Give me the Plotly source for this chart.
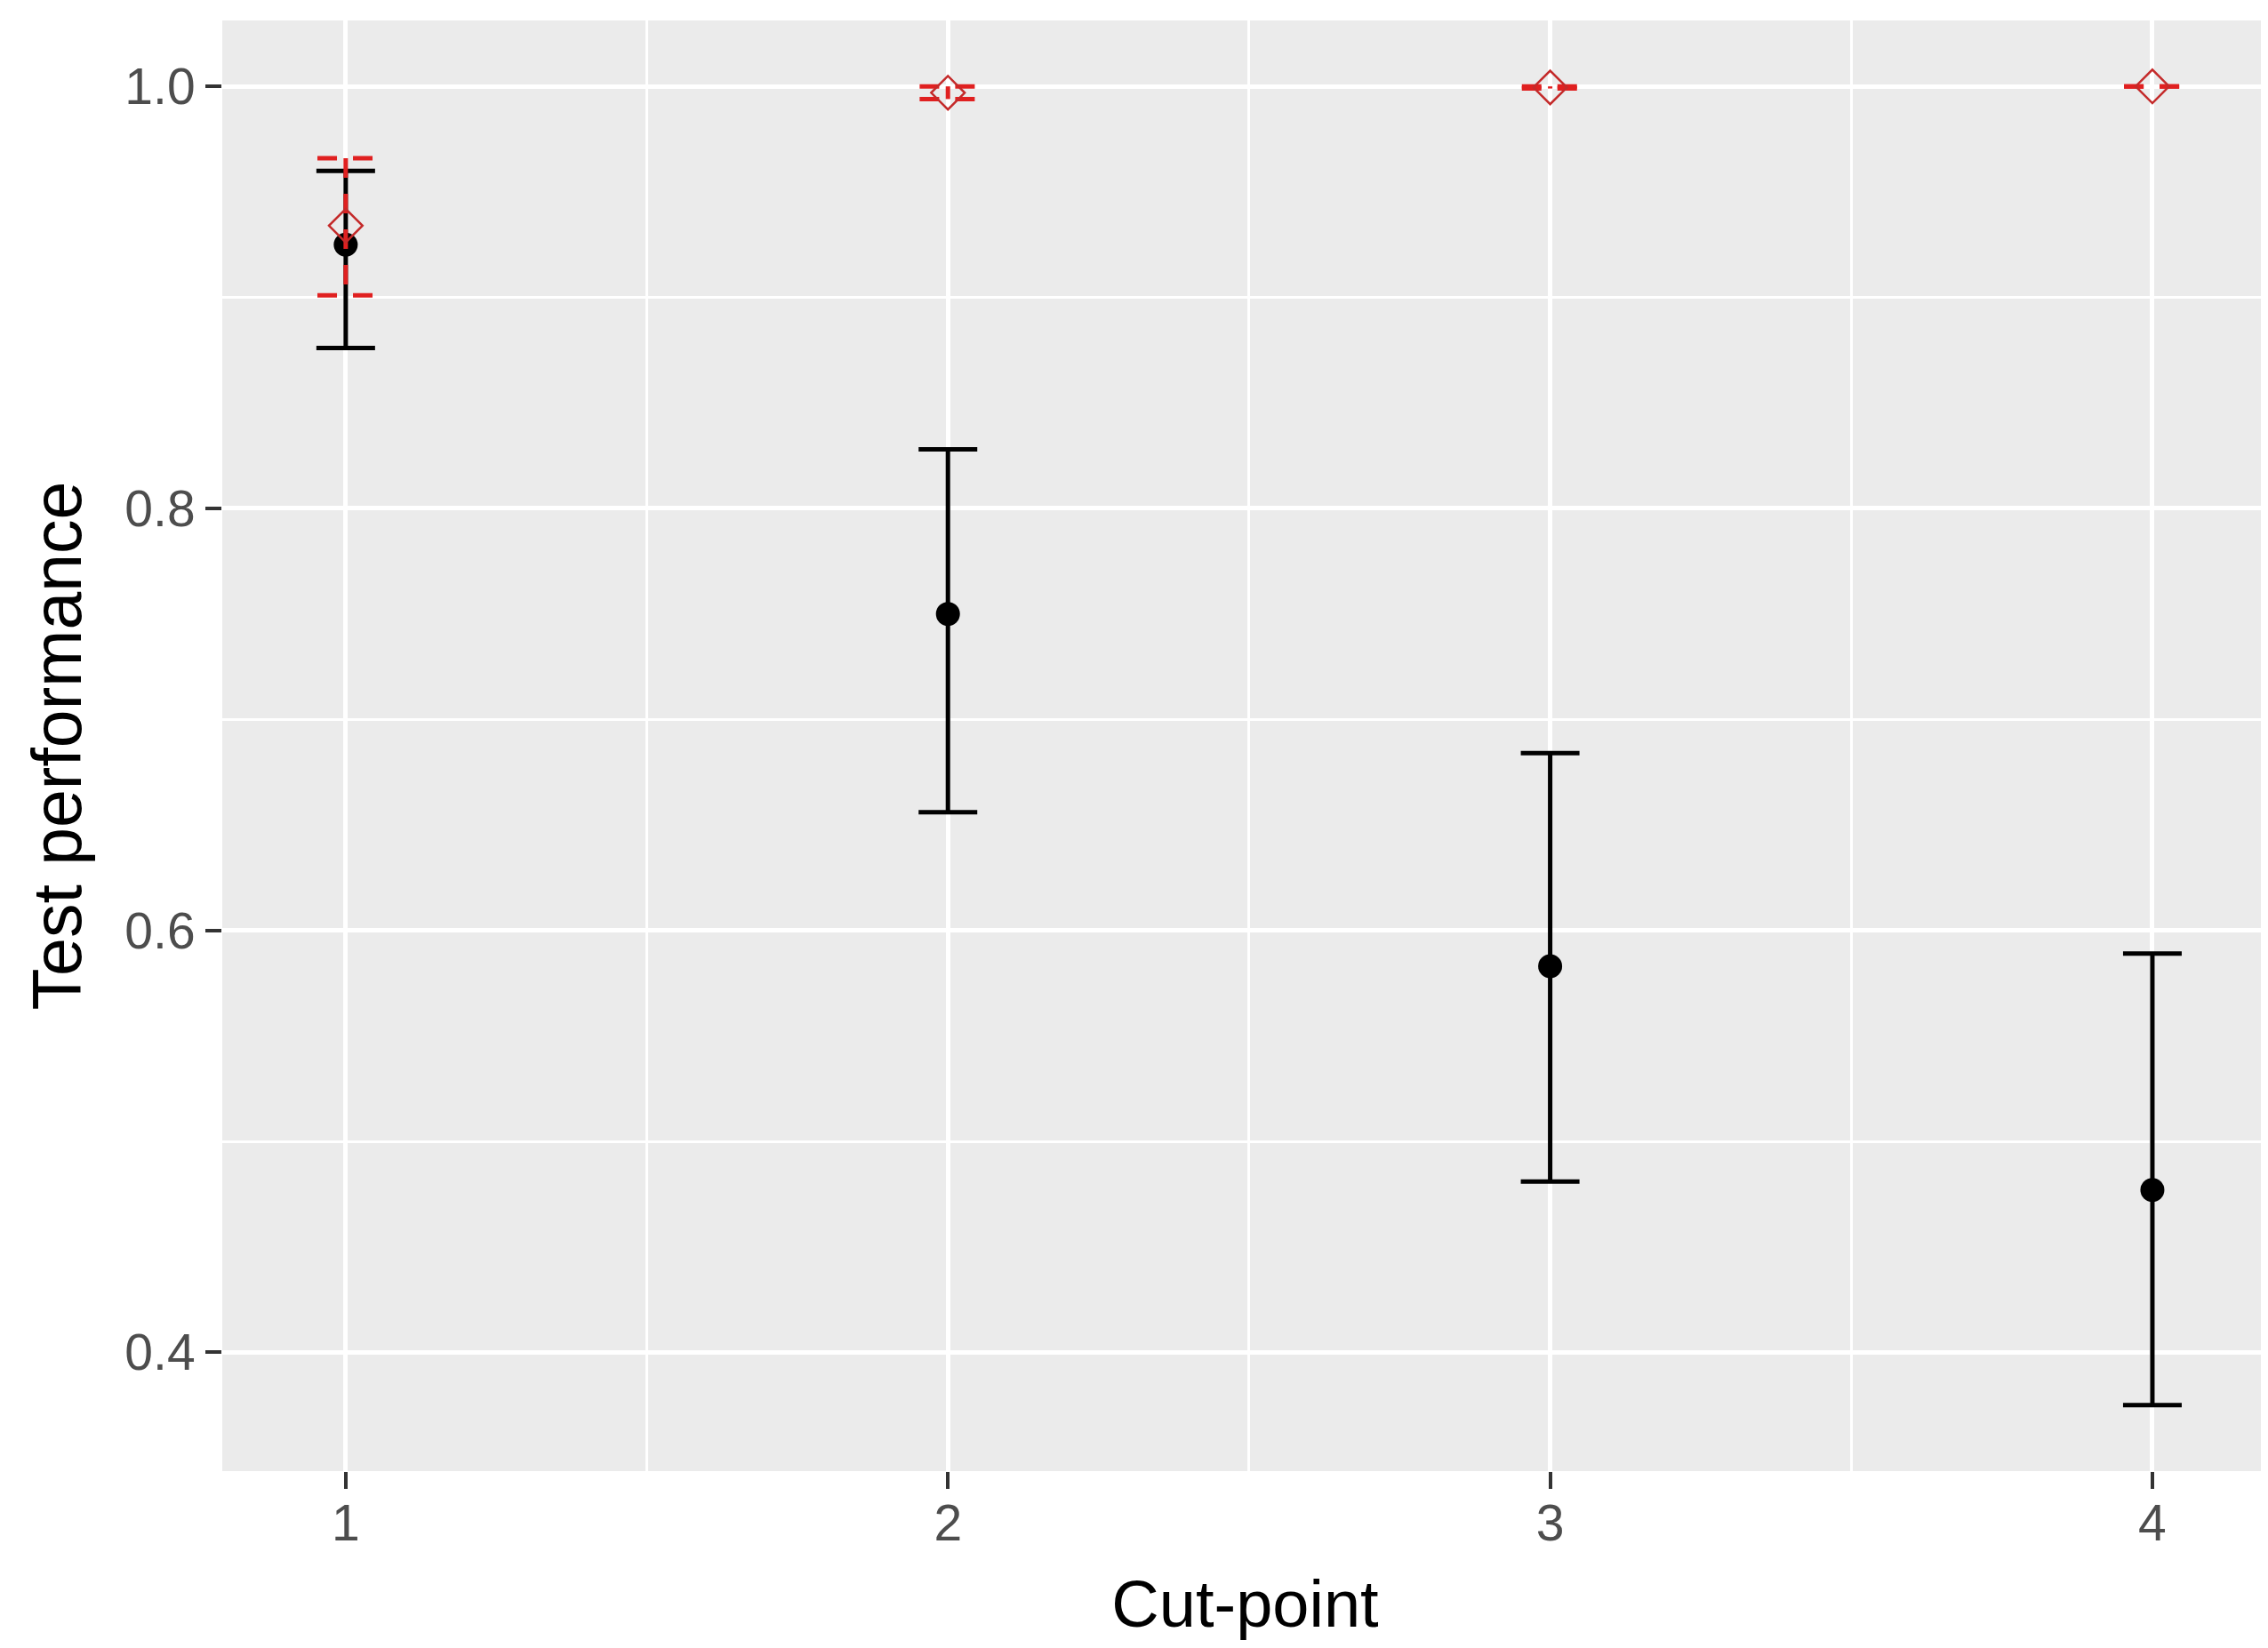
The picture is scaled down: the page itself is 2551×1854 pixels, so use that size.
import plotly.graph_objects as go

cut_points = [1, 2, 3, 4]
tick_labels = ["1", "2", "3", "4"]

# Black series (test performance)
test_mean = [0.925, 0.750, 0.583, 0.477]
test_upper = [0.960, 0.828, 0.684, 0.589]
test_lower = [0.876, 0.656, 0.481, 0.375]

# Red series (open diamonds with dashed error bars)
red_mean = [0.934, 0.997, 0.9995, 1.0]
red_upper = [0.966, 1.0, 1.0, 1.0]
red_lower = [0.901, 0.994, 0.999, 1.0]

y_ticks = [0.4, 0.6, 0.8, 1.0]
y_tick_labels = ["0.4", "0.6", "0.8", "1.0"]

CAP_HALF = 0.047  # error-bar cap half width in x units

fig = go.Figure()

# Black error bars + points
fig.add_trace(go.Scatter(
    x=cut_points, y=test_mean, mode="markers",
    marker=dict(color="black", size=27),
    error_y=dict(type="data", symmetric=False,
                 array=[u - m for u, m in zip(test_upper, test_mean)],
                 arrayminus=[m - l for m, l in zip(test_mean, test_lower)],
                 color="black", thickness=5, width=33),
    showlegend=False, hoverinfo="skip"))

# Red dashed error bars built from data
rx, ry = [], []
for x, lo, hi in zip(cut_points, red_lower, red_upper):
    rx += [x, x, None]
    ry += [hi, lo, None]
    rx += [x - CAP_HALF, x + CAP_HALF, None]
    ry += [hi, hi, None]
    rx += [x - CAP_HALF, x + CAP_HALF, None]
    ry += [lo, lo, None]
fig.add_trace(go.Scatter(
    x=rx, y=ry, mode="lines", connectgaps=False,
    line=dict(color="#e02020", width=5, dash="22px,18px"),
    showlegend=False, hoverinfo="skip"))

# Red open diamonds
fig.add_trace(go.Scatter(
    x=cut_points, y=red_mean, mode="markers",
    marker=dict(symbol="diamond-open", size=29, color="#c42a2a",
                line=dict(width=2.5, color="#c42a2a")),
    showlegend=False, hoverinfo="skip"))

font_family = "Liberation Sans, Arial, sans-serif"

fig.update_layout(
    width=2543, height=1838,
    margin=dict(l=242, r=0, t=15, b=191),
    paper_bgcolor="white",
    plot_bgcolor="#EBEBEB",
    font=dict(family=font_family),
    xaxis=dict(
        range=[0.795, 4.192],
        tickmode="array", tickvals=cut_points, ticktext=tick_labels,
        showgrid=True, gridcolor="white", gridwidth=5,
        minor=dict(tickmode="array", tickvals=[1.5, 2.5, 3.5],
                   showgrid=True, gridcolor="white", gridwidth=2.5, ticks=""),
        zeroline=False, showline=False,
        ticks="outside", ticklen=19, tickwidth=4, tickcolor="#333333",
        ticklabelstandoff=-10,
        tickfont=dict(size=57, color="#4d4d4d", family=font_family),
        title=dict(text="Cut-point", font=dict(size=74, color="black", family=font_family),
                   standoff=34),
    ),
    yaxis=dict(
        range=[0.34375, 1.03125],
        tickmode="array", tickvals=y_ticks, ticktext=y_tick_labels,
        showgrid=True, gridcolor="white", gridwidth=5,
        minor=dict(tickmode="array", tickvals=[0.5, 0.7, 0.9],
                   showgrid=True, gridcolor="white", gridwidth=2.5, ticks=""),
        zeroline=False, showline=False,
        ticks="outside", ticklen=18, tickwidth=4, tickcolor="#333333",
        tickfont=dict(size=57, color="#4d4d4d", family=font_family),
        title=dict(text="Test performance", font=dict(size=77, color="black", family=font_family),
                   standoff=23),
    ),
)

fig.write_html("out.html")
